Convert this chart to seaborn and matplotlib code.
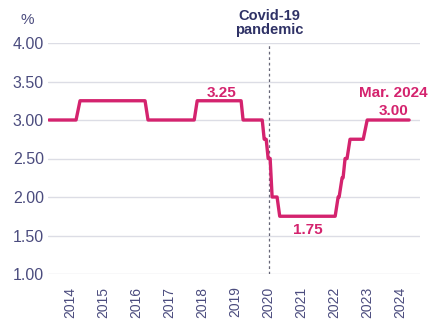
import matplotlib
matplotlib.use("Agg")
import matplotlib.pyplot as plt
import matplotlib.transforms as mtransforms
import seaborn as sns
import pandas as pd

# Step vertices (fractional year, rate %)
dates = [2013.36, 2014.18, 2014.30, 2016.27, 2016.36, 2017.76, 2017.85,
         2019.18, 2019.24, 2019.82, 2019.88, 2019.94, 2020.00, 2020.06,
         2020.12, 2020.27, 2020.35, 2022.03, 2022.12, 2022.15, 2022.24,
         2022.27, 2022.33, 2022.39, 2022.48, 2022.88, 2023.00, 2024.27]
rates = [3.00, 3.00, 3.25, 3.25, 3.00, 3.00, 3.25,
         3.25, 3.00, 3.00, 2.75, 2.75, 2.50, 2.50,
         2.00, 2.00, 1.75, 1.75, 2.00, 2.00, 2.25,
         2.25, 2.50, 2.50, 2.75, 2.75, 3.00, 3.00]
years = list(range(2014, 2025))
yticks = [1.00, 1.50, 2.00, 2.50, 3.00, 3.50, 4.00]
covid_x = 2020.03

sns.set_theme(style="white")
plt.rcParams['font.family'] = ['Liberation Sans', 'DejaVu Sans']

MAG = "#d4236e"
NAVY = "#2f3266"
TICK = "#4b4c7e"

fig = plt.figure(figsize=(4.34, 3.23), dpi=100)
ax = fig.add_axes([48/434, 1-274/323, (420-48)/434, (274-43)/323])

df = pd.DataFrame({"date": dates, "rate": rates})
for yv in yticks:
    ax.axhline(yv, color="#dcdde5", lw=1.0, zorder=0)
ax.axvline(covid_x, color="#666677", lw=0.9, ls=(0, (2.2, 2.2)), zorder=1)
sns.lineplot(data=df, x="date", y="rate", sort=False, estimator=None,
             color=MAG, lw=2.4, ax=ax, zorder=3)

ax.set_xlim(2013.33, 2024.6)
ax.set_ylim(1.0, 4.0)
ax.set_xticks(years)
ax.set_xticklabels([str(y) for y in years], rotation=90, fontsize=10, color=TICK)
ax.set_yticks(yticks)
ax.set_yticklabels([f"{v:.2f}" for v in yticks], fontsize=11.5, color=TICK)
ax.tick_params(axis="x", length=0, pad=9)
ax.tick_params(axis="y", length=0, pad=3)
ax.set_xlabel("")
ax.set_ylabel("")
for s in ax.spines.values():
    s.set_visible(False)

# x in data units, y in pixels from the bottom of the figure
tr = mtransforms.blended_transform_factory(ax.transData, mtransforms.IdentityTransform())

fig.text(27/434, 1-20/323, "%", ha="center", va="center", fontsize=11, color=TICK)
ax.text(covid_x, 302.5, "Covid-19", ha="center", va="baseline", fontsize=10.5,
        fontweight="bold", color=NAVY, transform=tr, clip_on=False)
ax.text(covid_x, 289, "pandemic", ha="center", va="baseline", fontsize=10.5,
        fontweight="bold", color=NAVY, transform=tr, clip_on=False)
ax.text(2018.59, 226, "3.25", ha="center", va="baseline", fontsize=11,
        fontweight="bold", color=MAG, transform=tr)
ax.text(2021.21, 89, "1.75", ha="center", va="baseline", fontsize=11,
        fontweight="bold", color=MAG, transform=tr)
ax.text(2023.79, 226, "Mar. 2024", ha="center", va="baseline", fontsize=11,
        fontweight="bold", color=MAG, transform=tr, clip_on=False)
ax.text(2023.80, 208, "3.00", ha="center", va="baseline", fontsize=11,
        fontweight="bold", color=MAG, transform=tr, clip_on=False)

fig.savefig("out.png", dpi=100)
